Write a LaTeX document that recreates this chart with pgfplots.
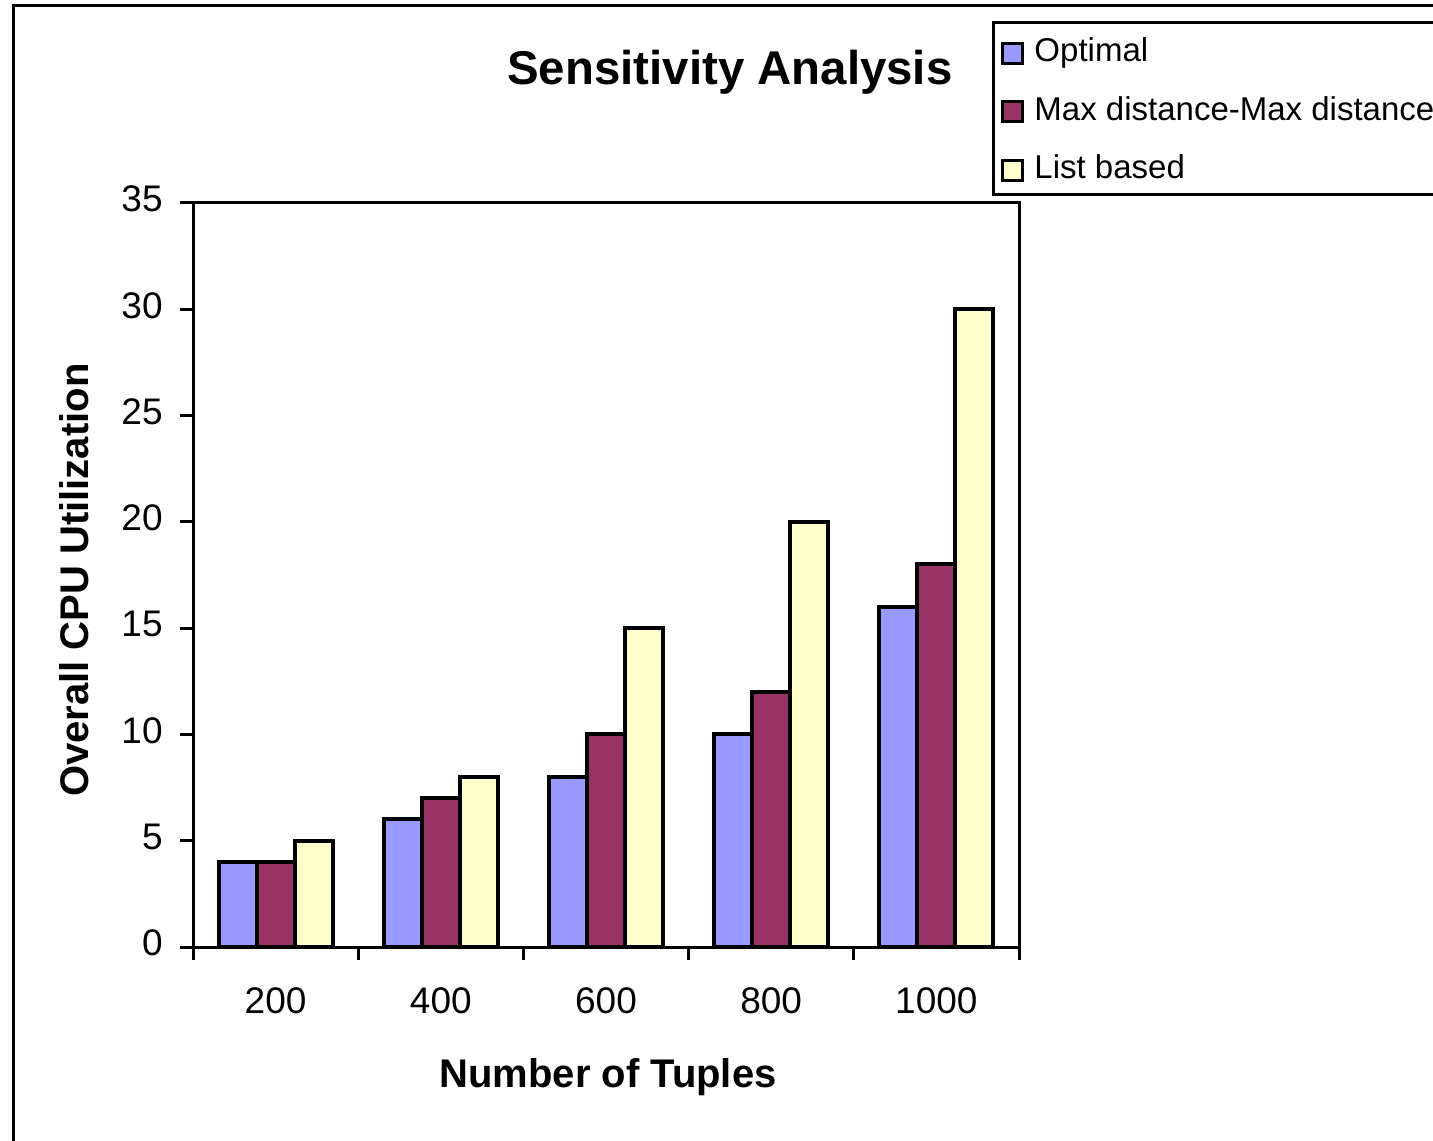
\documentclass[border=0pt]{standalone}
\usepackage{pgfplots}
\pgfplotsset{compat=1.18}
\usepackage{fontspec}
\setmainfont{Liberation Sans}
\definecolor{cOpt}{HTML}{9999FF}
\definecolor{cMax}{HTML}{993366}
\definecolor{cList}{HTML}{FFFFCC}
\begin{document}
\begin{tikzpicture}
\path[use as bounding box] (0,0) rectangle (716.5pt,570pt);
\clip (0,0) rectangle (716.5pt,570pt);
\fill[white] (0,0) rectangle (716.5pt,570pt);
\draw[line width=1.5pt] (6.5pt,-20pt) -- (6.5pt,567pt) -- (740pt,567pt);
\begin{axis}[
  at={(96.5pt,96.5pt)}, anchor=south west,
  scale only axis, width=413pt, height=372pt,
  xmin=-0.5, xmax=4.5, ymin=0, ymax=35,
  enlargelimits=false,
  ybar=0pt, bar width=19pt,
  axis line style={line width=1.5pt, black},
  tick align=outside,
  xtick pos=bottom, ytick pos=left,
  xtick={0,1,2,3,4}, xticklabels={200,400,600,800,1000},
  major x tick style={draw=none},
  minor xtick={-0.5,0.5,1.5,2.5,3.5,4.5},
  minor tick length=6.5pt,
  minor x tick style={line width=1.5pt, black},
  ytick={0,5,...,35},
  major tick length=6.5pt,
  y tick style={line width=1.5pt, black},
  /pgf/number format/assume math mode=true,
  ticklabel style={font=\fontsize{18.5}{18.5}\selectfont},
  xticklabel style={anchor=base, yshift=-26.5pt},
  yticklabel style={anchor=east, inner sep=0pt, xshift=-8.5pt, yshift=2pt},
  title={Sensitivity Analysis},
  title style={at={(axis description cs:0.650,1.1586)}, anchor=base, yshift=-6pt, inner sep=0pt, font=\bfseries\fontsize{23.7}{23.7}\selectfont},
  xlabel={Number of Tuples},
  xlabel style={at={(axis description cs:0.5024,-0.1882)}, anchor=base, inner sep=0pt, font=\bfseries\fontsize{20}{20}\selectfont},
  ylabel={Overall CPU Utilization},
  ylabel style={at={(axis description cs:-0.127,0.493)}, anchor=base, inner sep=0pt, font=\bfseries\fontsize{20}{20}\selectfont},
  legend style={at={(axis description cs:0.9673,1.2446)}, anchor=north west,
    draw=black, line width=1.5pt, fill=white,
    font=\fontsize{16.5}{16.5}\selectfont,
    inner xsep=4.5pt, inner ysep=8pt,
    row sep=17.75pt,
    nodes={inner sep=0pt, text height=11.5pt, text depth=0pt},
    /tikz/every odd column/.append style={column sep=6pt}},
  legend cell align=left,
  legend image code/.code={\path[draw=none, fill=none] (0pt,-5.75pt) rectangle (10pt,5.75pt);
    \draw[#1, line width=1.5pt, overlay] (0pt,-6.5pt) rectangle (10pt,3.5pt);},
]
\addplot[fill=cOpt, draw=black, line width=2pt] coordinates {(0,4) (1,6) (2,8) (3,10) (4,16)};
\addplot[fill=cMax, draw=black, line width=2pt] coordinates {(0,4) (1,7) (2,10) (3,12) (4,18)};
\addplot[fill=cList, draw=black, line width=2pt] coordinates {(0,5) (1,8) (2,15) (3,20) (4,30)};
\legend{Optimal, Max distance-Max distance, List based}
\end{axis}
\end{tikzpicture}
\end{document}
